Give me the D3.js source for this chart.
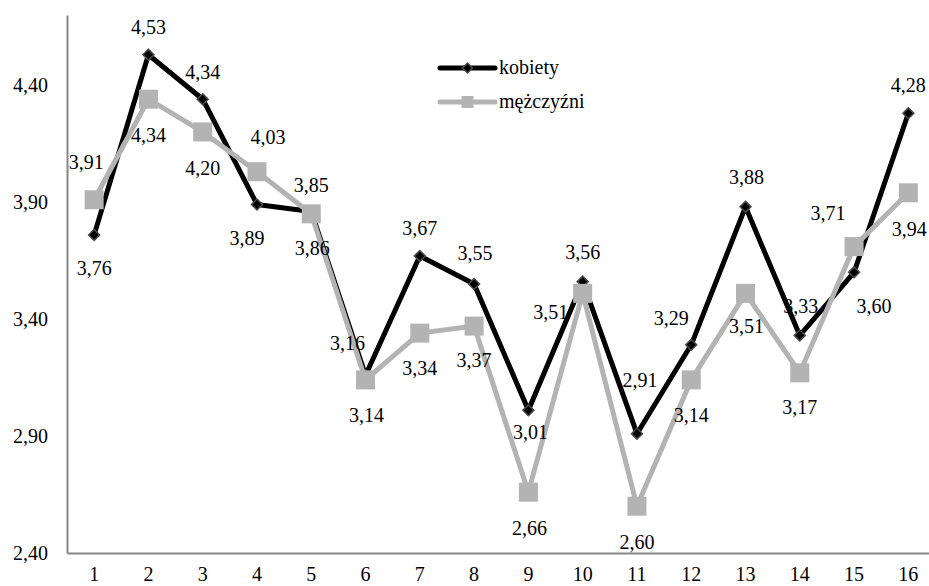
<!DOCTYPE html>
<html>
<head>
<meta charset="utf-8">
<script src="https://cdn.jsdelivr.net/npm/d3@7"></script>
<style>
  html, body { margin: 0; padding: 0; background: #fff; }
</style>
</head>
<body>
<svg id="chart" width="929" height="586"></svg>
<script>
// Categories and mean scores per group
const categories = ["1","2","3","4","5","6","7","8","9","10","11","12","13","14","15","16"];
const kobiety   = [3.76, 4.53, 4.34, 3.89, 3.86, 3.16, 3.67, 3.55, 3.01, 3.56, 2.91, 3.29, 3.88, 3.33, 3.60, 4.28];
const mezczyzni = [3.91, 4.34, 4.20, 4.03, 3.85, 3.14, 3.34, 3.37, 2.66, 3.51, 2.60, 3.14, 3.51, 3.17, 3.71, 3.94];
const yTicks = [2.40, 2.90, 3.40, 3.90, 4.40];
const seriesNames = ["kobiety", "mężczyźni"];

// Label placement (pixel offsets from each point)
const kLabelDx = [0, 0, 0, -10, 1, -18, 0, 1, 2, 0, 3, -20, 1, 1, 20, 0];
const kLabelDy = [33, -28, -27, 34, 37, -32, -28, -31, 22, -30, -54, -27, -30, -29, 34, -28];
const mLabelDx = [-8, 0, 0, 11, 0, 1, 0, 0, 1, -32, 0, 0, 1, 0, -26, 1];
const mLabelDy = [-38, 36, 36, -35, -29, 35, 35, 34, 36, 19, 36, 35, 33, 34, -34, 36];

const FONT = "Liberation Serif, DejaVu Serif, serif";

const svg = d3.select("#chart");
const plotLeft = 67, plotRight = 935.5, plotTop = 15, plotBottom = 553;

const x = d3.scaleBand().domain(categories).range([plotLeft, plotRight]).paddingInner(0).paddingOuter(0);
const y = d3.scaleLinear().domain([2.4, 4.7]).range([plotBottom, plotTop]);
const cx = c => x(c) + x.bandwidth() / 2;

const locale = d3.formatLocale({decimal: ",", thousands: " ", grouping: [3], currency: ["", " zł"]});
const fmt = locale.format(".2f");

const axisColor = "#868686";
const grey = "#b3b3b3";

function styleText(sel) {
  sel.attr("font-family", FONT)
     .attr("font-size", 20)
     .attr("fill", "#000");
}

// Y axis
const yAxis = d3.axisLeft(y).tickValues(yTicks).tickSize(0).tickPadding(19).tickFormat(fmt);
const gy = svg.append("g").attr("transform", `translate(${plotLeft},0)`).call(yAxis);
gy.attr("font-family", FONT).attr("font-size", 20);
gy.select(".domain").attr("stroke", axisColor).attr("stroke-width", 2);
styleText(gy.selectAll("text"));

// X axis
const xAxis = d3.axisBottom(x).tickSize(0).tickPadding(14);
const gx = svg.append("g").attr("transform", `translate(0,${plotBottom})`).call(xAxis);
gx.attr("font-family", FONT).attr("font-size", 20);
gx.select(".domain").attr("stroke", axisColor).attr("stroke-width", 2);
styleText(gx.selectAll("text"));

const line = d3.line().x((d, i) => cx(categories[i])).y(d => y(d));

// kobiety series
svg.append("path").datum(kobiety).attr("d", line)
  .attr("fill", "none").attr("stroke", "#000").attr("stroke-width", 5).attr("stroke-linejoin", "round");
svg.append("g").selectAll("path").data(kobiety).join("path")
  .attr("d", d3.symbol(d3.symbolSquare, 60)())
  .attr("transform", (d, i) => `translate(${cx(categories[i])},${y(d)}) rotate(45)`)
  .attr("fill", "#000").attr("stroke", "#4a4a4a").attr("stroke-width", 1.5);

// mężczyźni series
svg.append("path").datum(mezczyzni).attr("d", line)
  .attr("fill", "none").attr("stroke", grey).attr("stroke-width", 5).attr("stroke-linejoin", "round");
svg.append("g").selectAll("rect").data(mezczyzni).join("rect")
  .attr("x", (d, i) => cx(categories[i]) - 9.5).attr("y", d => y(d) - 9.5)
  .attr("width", 19).attr("height", 19).attr("fill", grey);

// Data labels
const labels = svg.append("g").attr("font-family", FONT).attr("font-size", 20);
labels.append("g").selectAll("text").data(kobiety).join("text")
  .attr("x", (d, i) => cx(categories[i]) + kLabelDx[i])
  .attr("y", (d, i) => y(d) + kLabelDy[i])
  .attr("dy", "0.35em").attr("text-anchor", "middle")
  .call(styleText)
  .text(d => fmt(d));
labels.append("g").selectAll("text").data(mezczyzni).join("text")
  .attr("x", (d, i) => cx(categories[i]) + mLabelDx[i])
  .attr("y", (d, i) => y(d) + mLabelDy[i])
  .attr("dy", "0.35em").attr("text-anchor", "middle")
  .call(styleText)
  .text(d => fmt(d));

// Legend
const legend = svg.append("g").attr("transform", "translate(440,68)");
const lk = legend.append("g");
lk.append("line").attr("x1", 0).attr("x2", 55).attr("y1", 0).attr("y2", 0)
  .attr("stroke", "#000").attr("stroke-width", 5).attr("stroke-linecap", "round");
lk.append("path").attr("d", d3.symbol(d3.symbolSquare, 50)())
  .attr("transform", "translate(27.5,0) rotate(45)")
  .attr("fill", "#000").attr("stroke", "#4a4a4a").attr("stroke-width", 1.5);
lk.append("text").attr("x", 59).attr("y", 0).attr("dy", "0.3em").call(styleText).text(seriesNames[0]);

const lm = legend.append("g").attr("transform", "translate(0,34)");
lm.append("line").attr("x1", 0).attr("x2", 55).attr("y1", 0).attr("y2", 0)
  .attr("stroke", grey).attr("stroke-width", 5).attr("stroke-linecap", "round");
lm.append("rect").attr("x", 21.5).attr("y", -6).attr("width", 12).attr("height", 12).attr("fill", grey);
lm.append("text").attr("x", 59).attr("y", 0).attr("dy", "0.3em").call(styleText).text(seriesNames[1]);
</script>
</body>
</html>
